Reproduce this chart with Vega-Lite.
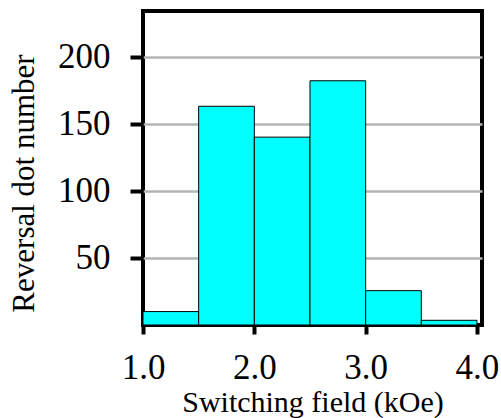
{
  "$schema": "https://vega.github.io/schema/vega-lite/v6.json",
  "width": 339,
  "height": 314,
  "autosize": {"type": "none"},
  "padding": {"left": 143, "top": 11, "right": 19, "bottom": 93},
  "background": "white",
  "config": {
    "view": {"stroke": "black", "strokeWidth": 4},
    "font": "Liberation Serif"
  },
  "data": {
    "values": [
      {"start": 1.0, "end": 1.5, "count": 10},
      {"start": 1.5, "end": 2.0, "count": 163},
      {"start": 2.0, "end": 2.5, "count": 140},
      {"start": 2.5, "end": 3.0, "count": 182},
      {"start": 3.0, "end": 3.5, "count": 25.6},
      {"start": 3.5, "end": 4.0, "count": 3.5}
    ]
  },
  "mark": {"type": "bar", "color": "#00FFFF", "stroke": "black", "strokeWidth": 1},
  "encoding": {
    "x": {
      "field": "start",
      "type": "quantitative",
      "scale": {"domain": [1, 4.045], "nice": false, "zero": false},
      "axis": {
        "title": "Switching field (kOe)",
        "values": [1, 2, 3, 4],
        "format": ".1f",
        "grid": false,
        "domain": false,
        "ticks": true,
        "tickSize": 9,
        "tickWidth": 4,
        "tickColor": "black",
        "labelFont": "Liberation Serif",
        "labelFontSize": 35,
        "labelColor": "black",
        "labelBaseline": "alphabetic",
        "labelPadding": 44,
        "labelFlush": false,
        "labelOverlap": false,
        "titleFont": "Liberation Serif",
        "titleFontSize": 30,
        "titleFontWeight": "normal",
        "titleColor": "black",
        "titleBaseline": "alphabetic",
        "titleY": 86
      }
    },
    "x2": {"field": "end"},
    "y": {
      "field": "count",
      "type": "quantitative",
      "scale": {"domain": [0, 234], "nice": false},
      "axis": {
        "title": "Reversal dot number",
        "values": [50, 100, 150, 200],
        "grid": true,
        "gridColor": "#b4b4b4",
        "gridWidth": 2.5,
        "domain": false,
        "tickSize": 13,
        "tickWidth": 4,
        "tickColor": "black",
        "labelFont": "Liberation Serif",
        "labelFontSize": 35,
        "labelColor": "black",
        "labelPadding": 20,
        "labelBaseline": "middle",
        "labelOverlap": false,
        "titleFont": "Liberation Serif",
        "titleFontSize": 31,
        "titleFontWeight": "normal",
        "titleColor": "black",
        "titleAngle": -90,
        "titleAlign": "center",
        "titleBaseline": "alphabetic",
        "titleX": -110,
        "titleY": 172
      }
    },
    "y2": {"datum": 0}
  }
}
